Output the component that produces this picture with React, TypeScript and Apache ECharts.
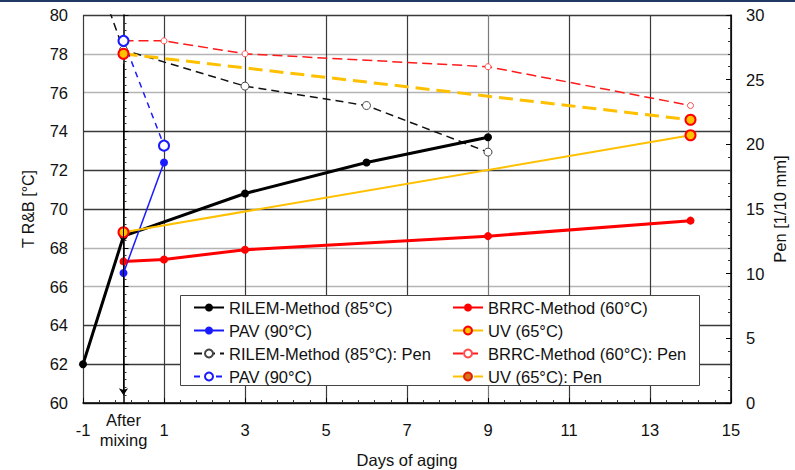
import React, { useEffect, useRef } from "react";
import * as echarts from "echarts";

// ---- data ----
const rilemDays = [-1, 0, 3, 6, 9];
const rilemTemp = [62.0, 68.6, 70.8, 72.4, 73.7];
const rilemPen = [36.0, 27.3, 24.5, 23.0, 19.4];

const pavDays = [0, 1];
const pavTemp = [66.7, 72.4];
const pavPen = [28.0, 19.9];

const brrcDays = [0, 1, 3, 9, 14];
const brrcTemp = [67.3, 67.4, 67.9, 68.6, 69.4];
const brrcPen = [28.0, 28.0, 27.0, 26.0, 23.0];

const uvDays = [0, 14];
const uvTemp = [68.8, 73.8];
const uvPen = [27.0, 21.9];

const xTickLabels = [-1, 0, 1, 3, 5, 7, 9, 11, 13, 15];
const afterMixingDay = 0;
const afterMixingLabel = "After\nmixing";
const arrowFromTemp = 77.5;
const arrowToTemp = 60.4;

const leftLegendNames = [
  "RILEM-Method (85°C)",
  "PAV (90°C)",
  "RILEM-Method (85°C): Pen",
  "PAV (90°C): Pen",
];
const rightLegendNames = [
  "BRRC-Method (60°C)",
  "UV (65°C)",
  "BRRC-Method (60°C): Pen",
  "UV (65°C): Pen",
];

const zip = (xs: number[], ys: number[]) => xs.map((x, i) => [x, ys[i]]);

const FONT = "'Liberation Sans', Arial, sans-serif";
const DARK = "#3a3a3a";
const LIGHT = "#b4b4b4";
const MID = "#7a7a7a";
const GOLD = "#ffc000";

export default function App() {
  const ref = useRef<HTMLDivElement>(null);

  useEffect(() => {
    document.body.style.margin = "0";
    if (!ref.current) return;
    const chart = echarts.init(ref.current, undefined, { renderer: "svg" });

    const legendCommon = {
      orient: "vertical",
      itemWidth: 30,
      itemHeight: 10,
      itemGap: 6,
      padding: 5,
      z: 10,
      textStyle: { fontSize: 16.5, color: "#111", fontFamily: FONT },
      formatter: (name: string) => (name === "PAV (90°C): Pen" ? "PAV (90°C)" : name),
    };

    const option: any = {
      animation: false,
      backgroundColor: "#ffffff",
      textStyle: { fontFamily: FONT },
      grid: {
        left: 83,
        right: 64,
        top: 15,
        bottom: 67,
        containLabel: false,
        outerBoundsMode: "none",
      },
      graphic: [
        {
          type: "rect",
          left: 180,
          top: 295,
          z: 3,
          shape: { width: 519, height: 90 },
          style: { fill: "#ffffff", stroke: "#444", lineWidth: 1 },
        },
      ],
      legend: [
        { ...legendCommon, left: 188, top: 294, data: leftLegendNames },
        {
          ...legendCommon,
          left: 447,
          top: 294,
          data: [
            rightLegendNames[0],
            rightLegendNames[1],
            rightLegendNames[2],
            {
              name: rightLegendNames[3],
              itemStyle: { color: "#d9731c", borderColor: "#e02000", borderWidth: 2 },
            },
          ],
        },
      ],
      xAxis: {
        type: "value",
        min: -1,
        max: 15,
        interval: 2,
        name: "Days of aging",
        nameLocation: "middle",
        nameGap: 48,
        nameMoveOverlap: false,
        nameTextStyle: { fontSize: 16.5, color: "#111", fontFamily: FONT },
        axisLine: { show: true, lineStyle: { color: "#000", width: 1.5 } },
        axisTick: { show: true, inside: true, length: 5, lineStyle: { color: "#000" } },
        minorTick: { show: true, splitNumber: 5, length: 3, lineStyle: { color: "#333" } },
        axisLabel: {
          customValues: xTickLabels,
          formatter: (v: number) => (v === afterMixingDay ? afterMixingLabel : String(v)),
          verticalAlign: "middle",
          margin: 27,
          lineHeight: 20,
          fontSize: 16.5,
          color: "#111",
          fontFamily: FONT,
        },
        splitLine: {
          show: true,
          lineStyle: {
            color: [DARK, DARK, DARK, DARK, DARK, MID, DARK, DARK, DARK],
            width: 1.2,
          },
        },
      },
      yAxis: [
        {
          type: "value",
          min: 60,
          max: 80,
          interval: 2,
          position: "left",
          name: "T R&B [°C]",
          nameLocation: "middle",
          nameRotate: 90,
          nameGap: 47,
          nameMoveOverlap: false,
          nameTextStyle: { fontSize: 16, color: "#111", fontFamily: FONT },
          axisLine: { show: true, lineStyle: { color: "#000", width: 1.5 } },
          axisTick: { show: true, inside: true, length: 5, lineStyle: { color: "#000" } },
          minorTick: { show: true, splitNumber: 5, length: 3, lineStyle: { color: "#333" } },
          axisLabel: { fontSize: 16.5, color: "#111", margin: 15, fontFamily: FONT },
          splitLine: {
            show: true,
            lineStyle: {
              color: [DARK, DARK, DARK, LIGHT, LIGHT, DARK, DARK, DARK, LIGHT, LIGHT, DARK],
              width: 1.3,
            },
          },
        },
        {
          type: "value",
          min: 0,
          max: 30,
          interval: 5,
          position: "right",
          name: "Pen [1/10 mm]",
          nameLocation: "middle",
          nameRotate: 90,
          nameGap: 40,
          nameMoveOverlap: false,
          nameTextStyle: { fontSize: 16.5, color: "#111", fontFamily: FONT },
          axisLine: { show: true, lineStyle: { color: "#000", width: 1.5 } },
          axisTick: { show: true, inside: true, length: 5, lineStyle: { color: "#000" } },
          minorTick: { show: true, splitNumber: 5, length: 3, lineStyle: { color: "#333" } },
          axisLabel: { fontSize: 16.5, color: "#111", margin: 15, fontFamily: FONT },
          splitLine: { show: false },
        },
      ],
      series: [
        {
          name: "RILEM-Method (85°C): Pen",
          type: "line",
          yAxisIndex: 1,
          data: zip(rilemDays, rilemPen),
          symbol: "circle",
          symbolSize: 8,
          lineStyle: { color: "#111", width: 1.5, type: [8, 5] },
          itemStyle: { color: "#ffffff", borderColor: "#444", borderWidth: 1 },
        },
        {
          name: "BRRC-Method (60°C): Pen",
          type: "line",
          yAxisIndex: 1,
          data: zip(brrcDays, brrcPen),
          symbol: "circle",
          symbolSize: 6,
          lineStyle: { color: "#ff1a1a", width: 1.5, type: [10, 5] },
          itemStyle: { color: "#ffffff", borderColor: "#ff4d4d", borderWidth: 1 },
        },
        {
          name: "UV (65°C): Pen",
          type: "line",
          yAxisIndex: 1,
          data: zip(uvDays, uvPen),
          symbol: "circle",
          symbolSize: 10,
          lineStyle: { color: GOLD, width: 3, type: [14, 7] },
          itemStyle: { color: GOLD, borderColor: "#ff0000", borderWidth: 2 },
        },
        {
          name: "PAV (90°C): Pen",
          type: "line",
          yAxisIndex: 1,
          data: zip(pavDays, pavPen),
          symbol: "circle",
          symbolSize: 10,
          lineStyle: { color: "#1a1aff", width: 1.5, type: [6, 5] },
          itemStyle: { color: "#ffffff", borderColor: "#1a1aff", borderWidth: 2 },
        },
        {
          name: "BRRC-Method (60°C)",
          type: "line",
          yAxisIndex: 0,
          data: zip(brrcDays, brrcTemp),
          symbol: "circle",
          symbolSize: 8,
          lineStyle: { color: "#ff0000", width: 3 },
          itemStyle: { color: "#ff0000", borderColor: "#ff0000", borderWidth: 0 },
        },
        {
          name: "RILEM-Method (85°C)",
          type: "line",
          yAxisIndex: 0,
          data: zip(rilemDays, rilemTemp),
          symbol: "circle",
          symbolSize: 8,
          lineStyle: { color: "#000000", width: 3 },
          itemStyle: { color: "#000000", borderWidth: 0 },
          markLine: {
            silent: true,
            symbol: ["none", "arrow"],
            symbolSize: 7,
            label: { show: false },
            lineStyle: { color: "#000", width: 1, type: "solid" },
            data: [
              [
                { coord: [afterMixingDay, arrowFromTemp] },
                { coord: [afterMixingDay, arrowToTemp] },
              ],
            ],
          },
        },
        {
          name: "PAV (90°C)",
          type: "line",
          yAxisIndex: 0,
          data: zip(pavDays, pavTemp),
          symbol: "circle",
          symbolSize: 8,
          lineStyle: { color: "#1a1aff", width: 1.5 },
          itemStyle: { color: "#1a1aff", borderWidth: 0 },
        },
        {
          name: "UV (65°C)",
          type: "line",
          yAxisIndex: 0,
          data: zip(uvDays, uvTemp),
          symbol: "circle",
          symbolSize: 10,
          lineStyle: { color: GOLD, width: 2 },
          itemStyle: { color: GOLD, borderColor: "#ff0000", borderWidth: 2 },
        },
      ],
    };

    chart.setOption(option);
    return () => chart.dispose();
  }, []);

  return (
    <div style={{ position: "relative", width: 795, height: 470, background: "#fff" }}>
      <div ref={ref} style={{ width: 795, height: 470 }} />
      <div
        style={{
          position: "absolute",
          left: 0,
          top: 0,
          width: 795,
          height: 2,
          background: "#1f3864",
        }}
      />
    </div>
  );
}
